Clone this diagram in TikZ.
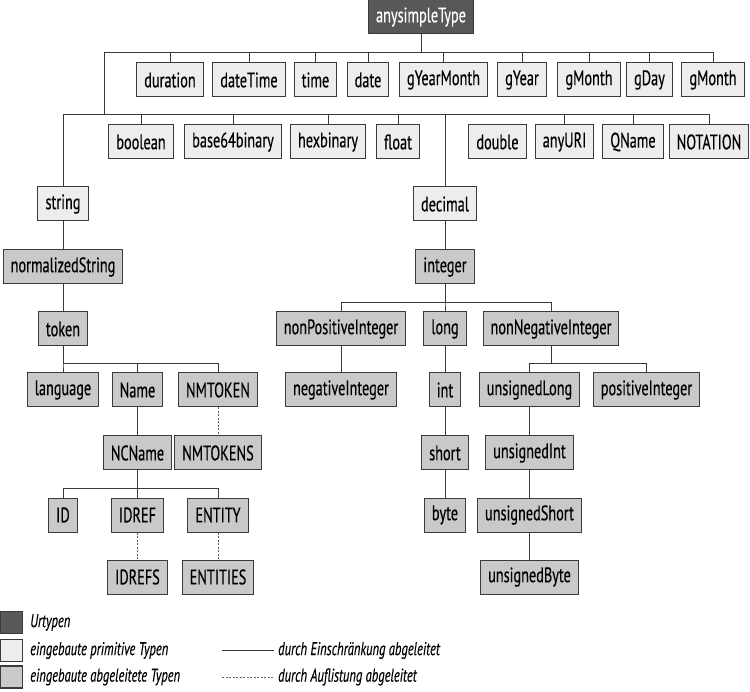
\documentclass[tikz,border=0pt]{standalone}
\usepackage{fontspec}
\setmainfont{PT Sans}[FakeStretch=0.68, FakeBold=0.35]
\usetikzlibrary{positioning}

\definecolor{urgrau}{HTML}{58585A}
\definecolor{primgrau}{HTML}{EDEDED}
\definecolor{ablgrau}{HTML}{C9C9CB}
\definecolor{randgrau}{HTML}{3A3A3A}

\tikzset{
  typbox/.style={draw=randgrau, line width=1pt, minimum height=34pt, inner xsep=7.5pt,
    font=\fontsize{21}{24}\selectfont},
  urtyp/.style={typbox, fill=urgrau, text=white},
  prim/.style={typbox, fill=primgrau},
  abgl/.style={typbox, fill=ablgrau},
  verb/.style={draw=randgrau, line width=1pt},
  aufl/.style={draw=randgrau!80, line width=1pt, dash pattern=on 2pt off 1.5pt},
  legtext/.style={anchor=west, inner sep=0pt, font=\fontsize{18.5}{22}\selectfont\itshape},
}

\begin{document}
\begin{tikzpicture}[x=1pt, y=-1pt]
    \useasboundingbox (0,0) rectangle (750,692);
    % Urtyp
    \node[urtyp] (anysimpleType) at (421,17) {anysimpleType};
    % erste Reihe
    \node[prim] (duration) at (170,80) {duration};
    \node[prim] (dateTime) at (249,80) {dateTime};
    \node[prim] (time) at (315.5,80) {time};
    \node[prim] (date) at (368,80) {date};
    \node[prim] (gYearMonth) at (443.5,80) {gYearMonth};
    \node[prim] (gYear) at (522,80) {gYear};
    \node[prim] (gMonth) at (589,80) {gMonth};
    \node[prim] (gDay) at (649.5,80) {gDay};
    \node[prim] (gMonthB) at (713,80) {gMonth};
    % zweite Reihe
    \node[prim] (boolean) at (141,142) {boolean};
    \node[prim] (base64binary) at (233,142) {base64binary};
    \node[prim] (hexbinary) at (328,142) {hexbinary};
    \node[prim] (float) at (398,142) {float};
    \node[prim] (double) at (497.5,142) {double};
    \node[prim] (anyURI) at (564.5,142) {anyURI};
    \node[prim] (QName) at (633,142) {QName};
    \node[prim] (NOTATION) at (709,142) {NOTATION};
    % string und decimal
    \node[prim] (string) at (63,204) {string};
    \node[prim] (decimal) at (445,204) {decimal};
    % abgeleitete Typen
    \node[abgl] (normalizedString) at (63,267) {normalizedString};
    \node[abgl] (token) at (63,329) {token};
    \node[abgl] (language) at (63,390) {language};
    \node[abgl] (Name) at (137.5,390) {Name};
    \node[abgl] (NMTOKEN) at (218,390) {NMTOKEN};
    \node[abgl] (NCName) at (137.5,453) {NCName};
    \node[abgl] (NMTOKENS) at (218,453) {NMTOKENS};
    \node[abgl] (ID) at (63,515) {ID};
    \node[abgl] (IDREF) at (137.5,515) {IDREF};
    \node[abgl] (ENTITY) at (218,515) {ENTITY};
    \node[abgl] (IDREFS) at (137.5,577) {IDREFS};
    \node[abgl] (ENTITIES) at (218,577) {ENTITIES};
    \node[abgl] (integer) at (445,267) {integer};
    \node[abgl] (nonPositiveInteger) at (341,329) {nonPositiveInteger};
    \node[abgl] (long) at (445,329) {long};
    \node[abgl] (nonNegativeInteger) at (551,329) {nonNegativeInteger};
    \node[abgl] (negativeInteger) at (341,390) {negativeInteger};
    \node[abgl] (int) at (445,390) {int};
    \node[abgl] (unsignedLong) at (529.5,390) {unsignedLong};
    \node[abgl] (positiveInteger) at (646.5,390) {positiveInteger};
    \node[abgl] (short) at (445,453) {short};
    \node[abgl] (unsignedInt) at (529.5,453) {unsignedInt};
    \node[abgl] (byte) at (445,515) {byte};
    \node[abgl] (unsignedShort) at (529.5,515) {unsignedShort};
    \node[abgl] (unsignedByte) at (529.5,577) {unsignedByte};
    % Verbindungen
    \coordinate (knoten) at (104,115);
    \foreach \kind in {duration,dateTime,time,date,gYearMonth,gYear,gMonth,gDay,gMonthB,knoten}
      \draw[verb] (anysimpleType.south) -- ++(0,18) -| (\kind.north);
    \foreach \kind in {string,boolean,base64binary,hexbinary,float,decimal,anyURI,QName,NOTATION}
      \draw[verb] (knoten) -| (\kind.north);
    \draw[verb] (string) -- (normalizedString);
    \draw[verb] (normalizedString) -- (token);
    \foreach \kind in {language,Name,NMTOKEN}
      \draw[verb] (token.south) -- ++(0,17) -| (\kind.north);
    \draw[verb] (Name) -- (NCName);
    \draw[aufl] (NMTOKEN) -- (NMTOKENS);
    \foreach \kind in {ID,IDREF,ENTITY}
      \draw[verb] (NCName.south) -- ++(0,18) -| (\kind.north);
    \draw[aufl] (IDREF) -- (IDREFS);
    \draw[aufl] (ENTITY) -- (ENTITIES);
    \draw[verb] (decimal) -- (integer);
    \foreach \kind in {nonPositiveInteger,long,nonNegativeInteger}
      \draw[verb] (integer.south) -- ++(0,18) -| (\kind.north);
    \draw[verb] (nonPositiveInteger) -- (negativeInteger);
    \draw[verb] (long) -- (int);
    \draw[verb] (int) -- (short);
    \draw[verb] (short) -- (byte);
    \foreach \kind in {unsignedLong,positiveInteger}
      \draw[verb] (nonNegativeInteger.south) -- ++(0,17) -| (\kind.north);
    \draw[verb] (unsignedLong) -- (unsignedInt);
    \draw[verb] (unsignedInt) -- (unsignedShort);
    \draw[verb] (unsignedShort) -- (unsignedByte);
    % Legende
    \node[urtyp, minimum width=22pt, minimum height=22pt, inner sep=0pt, line width=1.5pt] (legur) at (11.5,622.5) {};
    \node[prim, minimum width=22pt, minimum height=22pt, inner sep=0pt, line width=1.5pt] (legprim) at (11.5,650.5) {};
    \node[abgl, minimum width=22pt, minimum height=22pt, inner sep=0pt, line width=1.5pt] (legabgl) at (11.5,677) {};
    \node[legtext] (texur) at (30,622.5) {Urtypen};
    \node[legtext] (texprim) at (30,650.5) {eingebaute primitive Typen};
    \node[legtext] (texabgl) at (30,677) {eingebaute abgeleitete Typen};
    \node[legtext] (texeinschr) at (278,650.5) {durch Einschränkung abgeleitet};
    \node[legtext] (texaufl) at (278,677) {durch Auflistung abgeleitet};
    \coordinate (leinschr) at (222,650.5);
    \coordinate (laufl) at (222,677);
    \draw[verb] (leinschr) -- ([xshift=-4pt]texeinschr.west);
    \draw[aufl] (laufl) -- ([xshift=-4pt]texaufl.west);
\end{tikzpicture}
\end{document}
